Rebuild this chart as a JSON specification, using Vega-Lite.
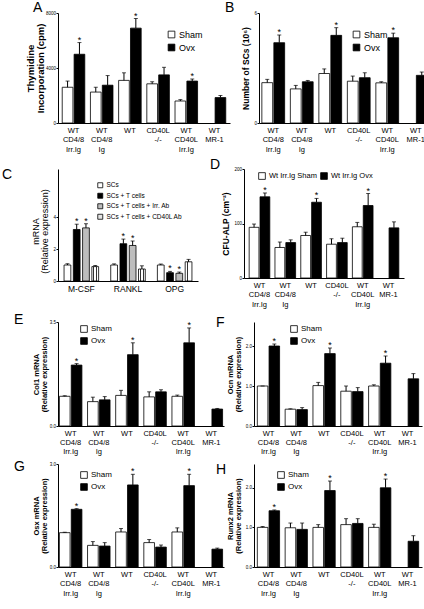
{
  "$schema": "https://vega.github.io/schema/vega-lite/v6.json",
  "padding": {"left": 2, "top": 1, "right": 2, "bottom": 1},
  "spacing": 5,
  "config": {
    "font": "Liberation Sans",
    "view": {"stroke": null},
    "axis": {"domainColor": "black", "tickColor": "black", "labelColor": "black", "titleColor": "black", "grid": false, "domainWidth": 1, "tickWidth": 1},
    "axisY": {"labelFontSize": 4.5, "tickSize": 2, "labelPadding": 0.5, "titleFontWeight": "bold", "titleFontSize": 8.5, "titlePadding": 1, "minExtent": 0},
    "axisX": {"labelFontSize": 7.5, "labelAngle": 0, "ticks": false, "labelPadding": 3, "labelLineHeight": 9.5, "labelOverlap": false, "labelExpr": "split(datum.label, ' ')"},
    "legend": {"title": null, "symbolType": "square", "symbolStrokeColor": "black", "symbolStrokeWidth": 1, "labelFontSize": 8, "symbolSize": 45, "rowPadding": 2, "labelOffset": 3},
    "title": {"fontSize": 14, "fontWeight": "normal", "anchor": "start", "frame": "group", "offset": 0},
    "bar": {"stroke": "black", "strokeWidth": 0.8}
  },
  "resolve": {"scale": {"fill": "independent", "xOffset": "independent", "x": "independent", "y": "independent"}, "legend": {"fill": "independent"}},
  "datasets": {
    "A": [
      {"group": "WT CD4/8 Irr.Ig", "cond": "Sham", "value": 2600, "hi": 3050, "sig": ""},
      {"group": "WT CD4/8 Irr.Ig", "cond": "Ovx", "value": 5000, "hi": 5850, "sig": "*"},
      {"group": "WT CD4/8 Ig", "cond": "Sham", "value": 2250, "hi": 2600, "sig": ""},
      {"group": "WT CD4/8 Ig", "cond": "Ovx", "value": 2750, "hi": 3450, "sig": ""},
      {"group": "WT", "cond": "Sham", "value": 3100, "hi": 3650, "sig": ""},
      {"group": "WT", "cond": "Ovx", "value": 6900, "hi": 7600, "sig": "*"},
      {"group": "CD40L -/-", "cond": "Sham", "value": 2850, "hi": 3000, "sig": ""},
      {"group": "CD40L -/-", "cond": "Ovx", "value": 3500, "hi": 4050, "sig": ""},
      {"group": "WT CD40L Irr.Ig", "cond": "Sham", "value": 1600, "hi": 1700, "sig": ""},
      {"group": "WT CD40L Irr.Ig", "cond": "Ovx", "value": 3050, "hi": 3200, "sig": "*"},
      {"group": "WT MR-1", "cond": "Ovx", "value": 1850, "hi": 2000, "sig": ""}
    ],
    "B": [
      {"group": "WT CD4/8 Irr.Ig", "cond": "Sham", "value": 2.2, "hi": 2.38, "sig": ""},
      {"group": "WT CD4/8 Irr.Ig", "cond": "Ovx", "value": 4.38, "hi": 4.8, "sig": "*"},
      {"group": "WT CD4/8 Ig", "cond": "Sham", "value": 1.86, "hi": 2.05, "sig": ""},
      {"group": "WT CD4/8 Ig", "cond": "Ovx", "value": 2.25, "hi": 2.32, "sig": ""},
      {"group": "WT", "cond": "Sham", "value": 2.7, "hi": 2.95, "sig": ""},
      {"group": "WT", "cond": "Ovx", "value": 4.78, "hi": 5.2, "sig": "*"},
      {"group": "CD40L -/-", "cond": "Sham", "value": 2.28, "hi": 2.56, "sig": ""},
      {"group": "CD40L -/-", "cond": "Ovx", "value": 2.47, "hi": 2.74, "sig": ""},
      {"group": "WT CD40L Irr.Ig", "cond": "Sham", "value": 2.19, "hi": 2.25, "sig": ""},
      {"group": "WT CD40L Irr.Ig", "cond": "Ovx", "value": 4.65, "hi": 4.9, "sig": "*"},
      {"group": "WT MR-1", "cond": "Ovx", "value": 2.6, "hi": 2.78, "sig": ""}
    ],
    "C": [
      {"gene": "M-CSF", "treat": "SCs", "value": 1.0, "hi": 1.08, "sig": ""},
      {"gene": "M-CSF", "treat": "SCs + T cells", "value": 3.22, "hi": 3.55, "sig": "*"},
      {"gene": "M-CSF", "treat": "SCs + T cells + Irr. Ab", "value": 3.32, "hi": 3.58, "sig": "*"},
      {"gene": "M-CSF", "treat": "SCs + T cells + CD40L Ab", "value": 0.9, "hi": 0.97, "sig": ""},
      {"gene": "RANKL", "treat": "SCs", "value": 1.0, "hi": 1.07, "sig": ""},
      {"gene": "RANKL", "treat": "SCs + T cells", "value": 2.33, "hi": 2.62, "sig": "*"},
      {"gene": "RANKL", "treat": "SCs + T cells + Irr. Ab", "value": 2.22, "hi": 2.5, "sig": "*"},
      {"gene": "RANKL", "treat": "SCs + T cells + CD40L Ab", "value": 0.75, "hi": 0.95, "sig": ""},
      {"gene": "OPG", "treat": "SCs", "value": 1.0, "hi": 1.06, "sig": ""},
      {"gene": "OPG", "treat": "SCs + T cells", "value": 0.52, "hi": 0.6, "sig": "*"},
      {"gene": "OPG", "treat": "SCs + T cells + Irr. Ab", "value": 0.48, "hi": 0.56, "sig": "*"},
      {"gene": "OPG", "treat": "SCs + T cells + CD40L Ab", "value": 1.2, "hi": 1.35, "sig": ""}
    ],
    "D": [
      {"group": "WT CD4/8 Irr.Ig", "cond": "Sham", "value": 93, "hi": 99, "sig": ""},
      {"group": "WT CD4/8 Irr.Ig", "cond": "Ovx", "value": 149, "hi": 156, "sig": "*"},
      {"group": "WT CD4/8 Ig", "cond": "Sham", "value": 56, "hi": 66, "sig": ""},
      {"group": "WT CD4/8 Ig", "cond": "Ovx", "value": 65, "hi": 70, "sig": ""},
      {"group": "WT", "cond": "Sham", "value": 78, "hi": 84, "sig": ""},
      {"group": "WT", "cond": "Ovx", "value": 139, "hi": 146, "sig": "*"},
      {"group": "CD40L -/-", "cond": "Sham", "value": 62, "hi": 72, "sig": ""},
      {"group": "CD40L -/-", "cond": "Ovx", "value": 65, "hi": 73, "sig": ""},
      {"group": "WT CD40L Irr.Ig", "cond": "Sham", "value": 94, "hi": 102, "sig": ""},
      {"group": "WT CD40L Irr.Ig", "cond": "Ovx", "value": 133, "hi": 155, "sig": "*"},
      {"group": "WT MR-1", "cond": "Ovx", "value": 92, "hi": 103, "sig": ""}
    ],
    "E": [
      {"group": "WT CD4/8 Irr.Ig", "cond": "Sham", "value": 1.0, "hi": 1.02, "sig": ""},
      {"group": "WT CD4/8 Irr.Ig", "cond": "Ovx", "value": 2.05, "hi": 2.1, "sig": "*"},
      {"group": "WT CD4/8 Ig", "cond": "Sham", "value": 0.82, "hi": 0.97, "sig": ""},
      {"group": "WT CD4/8 Ig", "cond": "Ovx", "value": 0.88, "hi": 0.99, "sig": ""},
      {"group": "WT", "cond": "Sham", "value": 1.03, "hi": 1.2, "sig": ""},
      {"group": "WT", "cond": "Ovx", "value": 2.4, "hi": 2.8, "sig": "*"},
      {"group": "CD40L -/-", "cond": "Sham", "value": 0.98, "hi": 1.15, "sig": ""},
      {"group": "CD40L -/-", "cond": "Ovx", "value": 1.15, "hi": 1.22, "sig": ""},
      {"group": "WT CD40L Irr.Ig", "cond": "Sham", "value": 1.0, "hi": 1.04, "sig": ""},
      {"group": "WT CD40L Irr.Ig", "cond": "Ovx", "value": 2.8, "hi": 3.3, "sig": "*"},
      {"group": "WT MR-1", "cond": "Ovx", "value": 0.57, "hi": 0.59, "sig": ""}
    ],
    "F": [
      {"group": "WT CD4/8 Irr.Ig", "cond": "Sham", "value": 1.0, "hi": 1.0, "sig": ""},
      {"group": "WT CD4/8 Irr.Ig", "cond": "Ovx", "value": 2.0, "hi": 2.05, "sig": "*"},
      {"group": "WT CD4/8 Ig", "cond": "Sham", "value": 0.42, "hi": 0.43, "sig": ""},
      {"group": "WT CD4/8 Ig", "cond": "Ovx", "value": 0.41, "hi": 0.46, "sig": ""},
      {"group": "WT", "cond": "Sham", "value": 1.01, "hi": 1.09, "sig": ""},
      {"group": "WT", "cond": "Ovx", "value": 1.81, "hi": 1.95, "sig": "*"},
      {"group": "CD40L -/-", "cond": "Sham", "value": 0.87, "hi": 1.0, "sig": ""},
      {"group": "CD40L -/-", "cond": "Ovx", "value": 0.86, "hi": 0.96, "sig": ""},
      {"group": "WT CD40L Irr.Ig", "cond": "Sham", "value": 1.0, "hi": 1.03, "sig": ""},
      {"group": "WT CD40L Irr.Ig", "cond": "Ovx", "value": 1.57, "hi": 1.75, "sig": "*"},
      {"group": "WT MR-1", "cond": "Ovx", "value": 1.18, "hi": 1.31, "sig": ""}
    ],
    "G": [
      {"group": "WT CD4/8 Irr.Ig", "cond": "Sham", "value": 1.0, "hi": 1.01, "sig": ""},
      {"group": "WT CD4/8 Irr.Ig", "cond": "Ovx", "value": 1.68, "hi": 1.7, "sig": "*"},
      {"group": "WT CD4/8 Ig", "cond": "Sham", "value": 0.63, "hi": 0.74, "sig": ""},
      {"group": "WT CD4/8 Ig", "cond": "Ovx", "value": 0.61, "hi": 0.71, "sig": ""},
      {"group": "WT", "cond": "Sham", "value": 1.02, "hi": 1.12, "sig": ""},
      {"group": "WT", "cond": "Ovx", "value": 2.39, "hi": 2.7, "sig": "*"},
      {"group": "CD40L -/-", "cond": "Sham", "value": 0.71, "hi": 0.8, "sig": ""},
      {"group": "CD40L -/-", "cond": "Ovx", "value": 0.58, "hi": 0.64, "sig": ""},
      {"group": "WT CD40L Irr.Ig", "cond": "Sham", "value": 1.02, "hi": 1.14, "sig": ""},
      {"group": "WT CD40L Irr.Ig", "cond": "Ovx", "value": 2.37, "hi": 2.7, "sig": "*"},
      {"group": "WT MR-1", "cond": "Ovx", "value": 0.52, "hi": 0.55, "sig": ""}
    ],
    "H": [
      {"group": "WT CD4/8 Irr.Ig", "cond": "Sham", "value": 1.0, "hi": 1.02, "sig": ""},
      {"group": "WT CD4/8 Irr.Ig", "cond": "Ovx", "value": 1.42, "hi": 1.44, "sig": "*"},
      {"group": "WT CD4/8 Ig", "cond": "Sham", "value": 0.99, "hi": 1.11, "sig": ""},
      {"group": "WT CD4/8 Ig", "cond": "Ovx", "value": 0.95, "hi": 1.11, "sig": ""},
      {"group": "WT", "cond": "Sham", "value": 1.0, "hi": 1.07, "sig": ""},
      {"group": "WT", "cond": "Ovx", "value": 1.93, "hi": 2.17, "sig": "*"},
      {"group": "CD40L -/-", "cond": "Sham", "value": 1.07, "hi": 1.22, "sig": ""},
      {"group": "CD40L -/-", "cond": "Ovx", "value": 1.1, "hi": 1.22, "sig": ""},
      {"group": "WT CD40L Irr.Ig", "cond": "Sham", "value": 1.0, "hi": 1.08, "sig": ""},
      {"group": "WT CD40L Irr.Ig", "cond": "Ovx", "value": 2.0, "hi": 2.22, "sig": "*"},
      {"group": "WT MR-1", "cond": "Ovx", "value": 0.65, "hi": 0.79, "sig": ""}
    ]
  },
  "vconcat": [
    {
      "spacing": -5,
      "resolve": {"scale": {"fill": "independent", "xOffset": "independent", "x": "independent", "y": "independent"}, "legend": {"fill": "independent"}},
      "hconcat": [
        {
          "width": 172, "height": 110,
          "title": {"text": "A", "dx": -25, "dy": 9},
          "data": {"name": "A"},
          "encoding": {
            "x": {"field": "group", "type": "nominal", "title": null, "sort": ["WT CD4/8 Irr.Ig", "WT CD4/8 Ig", "WT", "CD40L -/-", "WT CD40L Irr.Ig", "WT MR-1"], "scale": {"paddingInner": 0.2, "paddingOuter": 0.15}},
            "xOffset": {"field": "cond", "type": "nominal", "sort": ["Sham", "Ovx"], "scale": {"domain": ["Sham", "Ovx"], "paddingInner": 0.1}}
          },
          "layer": [
            {"mark": "bar", "encoding": {
              "y": {"field": "value", "type": "quantitative", "scale": {"domain": [0, 8000]}, "axis": {"values": [0, 2000, 4000, 6000, 8000], "format": "d", "title": ["Thymidine", "Incorporation (cpm)"], "titleFontSize": 9.5, "titleLineHeight": 10, "titlePadding": 0}},
              "fill": {"field": "cond", "type": "nominal", "scale": {"domain": ["Sham", "Ovx"], "range": ["white", "black"]}, "legend": {"orient": "none", "legendX": 109, "legendY": 17, "labelFontSize": 9}}}},
            {"mark": {"type": "rule", "strokeWidth": 1}, "encoding": {"y": {"field": "value", "type": "quantitative"}, "y2": {"field": "hi"}}},
            {"mark": {"type": "tick", "thickness": 1, "size": 4, "color": "black"}, "encoding": {"y": {"field": "hi", "type": "quantitative"}}},
            {"mark": {"type": "text", "baseline": "bottom", "dy": 2, "fontSize": 9}, "encoding": {"y": {"field": "hi", "type": "quantitative"}, "text": {"field": "sig"}}}
          ]
        },
        {
          "width": 171, "height": 110,
          "title": {"text": "B", "dx": -34, "dy": 9},
          "data": {"name": "B"},
          "encoding": {
            "x": {"field": "group", "type": "nominal", "title": null, "sort": ["WT CD4/8 Irr.Ig", "WT CD4/8 Ig", "WT", "CD40L -/-", "WT CD40L Irr.Ig", "WT MR-1"], "scale": {"paddingInner": 0.2, "paddingOuter": 0.1}},
            "xOffset": {"field": "cond", "type": "nominal", "sort": ["Sham", "Ovx"], "scale": {"domain": ["Sham", "Ovx"], "paddingInner": 0.1}}
          },
          "layer": [
            {"mark": "bar", "encoding": {
              "y": {"field": "value", "type": "quantitative", "scale": {"domain": [0, 6]}, "axis": {"values": [0, 2, 4, 6], "format": "d", "title": "Number of SCs (10⁶)", "titleFontSize": 8.5, "titlePadding": 3}},
              "fill": {"field": "cond", "type": "nominal", "scale": {"domain": ["Sham", "Ovx"], "range": ["white", "black"]}, "legend": {"orient": "none", "legendX": 93, "legendY": 17, "labelFontSize": 9}}}},
            {"mark": {"type": "rule", "strokeWidth": 1}, "encoding": {"y": {"field": "value", "type": "quantitative"}, "y2": {"field": "hi"}}},
            {"mark": {"type": "tick", "thickness": 1, "size": 4, "color": "black"}, "encoding": {"y": {"field": "hi", "type": "quantitative"}}},
            {"mark": {"type": "text", "baseline": "bottom", "dy": 2, "fontSize": 9}, "encoding": {"y": {"field": "hi", "type": "quantitative"}, "text": {"field": "sig"}}}
          ]
        }
      ]
    },
    {
      "spacing": 12,
      "resolve": {"scale": {"fill": "independent", "xOffset": "independent", "x": "independent", "y": "independent"}, "legend": {"fill": "independent"}},
      "hconcat": [
        {
          "width": 140, "height": 112,
          "title": {"text": "C", "dx": -56, "dy": 16.5},
          "data": {"name": "C"},
          "encoding": {
            "x": {"field": "gene", "type": "nominal", "title": null, "sort": ["M-CSF", "RANKL", "OPG"], "scale": {"paddingInner": 0.2, "paddingOuter": 0.1}, "axis": {"labelFontSize": 8.5, "labelPadding": 3}},
            "xOffset": {"field": "treat", "type": "nominal", "sort": ["SCs", "SCs + T cells", "SCs + T cells + Irr. Ab", "SCs + T cells + CD40L Ab"], "scale": {"paddingInner": 0.27, "paddingOuter": 0.15}}
          },
          "layer": [
            {"mark": "bar", "encoding": {
              "y": {"field": "value", "type": "quantitative", "scale": {"domain": [0, 7]}, "axis": {"values": [0, 1, 2, 3, 4, 5], "format": "d", "title": ["mRNA", "(Relative expression)"], "titleFontWeight": "normal", "titleFontSize": 9, "titleLineHeight": 9.5, "titlePadding": 3, "titleY": 62}},
              "fill": {
                "condition": {"test": "datum.treat === 'SCs + T cells + CD40L Ab'", "value": {"gradient": "linear", "x1": 0, "y1": 0, "x2": 1, "y2": 0, "stops": [{"offset": 0, "color": "white"}, {"offset": 0.22, "color": "white"}, {"offset": 0.22, "color": "#333333"}, {"offset": 0.36, "color": "#333333"}, {"offset": 0.36, "color": "white"}, {"offset": 0.64, "color": "white"}, {"offset": 0.64, "color": "#333333"}, {"offset": 0.78, "color": "#333333"}, {"offset": 0.78, "color": "white"}, {"offset": 1, "color": "white"}]}},
                "field": "treat", "type": "nominal",
                "scale": {"domain": ["SCs", "SCs + T cells", "SCs + T cells + Irr. Ab", "SCs + T cells + CD40L Ab"], "range": ["white", "black", "#bdbdbd", "#e4e4e4"]},
                "legend": {"orient": "none", "legendX": 39, "legendY": 13, "symbolSize": 25, "labelFontSize": 6.5, "rowPadding": 1.5, "labelOffset": 3}}}},
            {"mark": {"type": "rule", "strokeWidth": 1}, "encoding": {"y": {"field": "value", "type": "quantitative"}, "y2": {"field": "hi"}}},
            {"mark": {"type": "tick", "thickness": 1, "size": 4, "color": "black"}, "encoding": {"y": {"field": "hi", "type": "quantitative"}}},
            {"mark": {"type": "text", "baseline": "bottom", "dy": 2, "fontSize": 9}, "encoding": {"y": {"field": "hi", "type": "quantitative"}, "text": {"field": "sig"}}}
          ]
        },
        {
          "width": 160, "height": 109,
          "title": {"text": "D", "dx": -34, "dy": 10},
          "data": {"name": "D"},
          "encoding": {
            "x": {"field": "group", "type": "nominal", "title": null, "sort": ["WT CD4/8 Irr.Ig", "WT CD4/8 Ig", "WT", "CD40L -/-", "WT CD40L Irr.Ig", "WT MR-1"], "scale": {"paddingInner": 0.2, "paddingOuter": 0.2}},
            "xOffset": {"field": "cond", "type": "nominal", "sort": ["Sham", "Ovx"], "scale": {"domain": ["Sham", "Ovx"], "paddingInner": 0.1}}
          },
          "layer": [
            {"mark": "bar", "encoding": {
              "y": {"field": "value", "type": "quantitative", "scale": {"domain": [0, 200]}, "axis": {"values": [0, 50, 100, 150, 200], "format": "d", "title": "CFU-ALP (cm⁻²)", "titleFontSize": 8.5, "titlePadding": 3}},
              "fill": {"field": "cond", "type": "nominal", "scale": {"domain": ["Sham", "Ovx"], "range": ["white", "black"]}, "legend": {"orient": "none", "legendX": 14, "legendY": 3, "direction": "horizontal", "columnPadding": 2, "labelFontSize": 7.5, "labelExpr": "'Wt Irr.Ig ' + datum.label"}}}},
            {"mark": {"type": "rule", "strokeWidth": 1}, "encoding": {"y": {"field": "value", "type": "quantitative"}, "y2": {"field": "hi"}}},
            {"mark": {"type": "tick", "thickness": 1, "size": 4, "color": "black"}, "encoding": {"y": {"field": "hi", "type": "quantitative"}}},
            {"mark": {"type": "text", "baseline": "bottom", "dy": 2, "fontSize": 9}, "encoding": {"y": {"field": "hi", "type": "quantitative"}, "text": {"field": "sig"}}}
          ]
        }
      ]
    },
    {
      "spacing": -8,
      "resolve": {"scale": {"fill": "independent", "xOffset": "independent", "x": "independent", "y": "independent"}, "legend": {"fill": "independent"}},
      "hconcat": [
        {
          "width": 166, "height": 104,
          "title": {"text": "E", "dx": -44, "dy": 17, "offset": 9},
          "data": {"name": "E"},
          "encoding": {
            "x": {"field": "group", "type": "nominal", "title": null, "sort": ["WT CD4/8 Irr.Ig", "WT CD4/8 Ig", "WT", "CD40L -/-", "WT CD40L Irr.Ig", "WT MR-1"], "scale": {"paddingInner": 0.2, "paddingOuter": 0.05}, "axis": {"labelLineHeight": 9}},
            "xOffset": {"field": "cond", "type": "nominal", "sort": ["Sham", "Ovx"], "scale": {"domain": ["Sham", "Ovx"], "paddingInner": 0.1}}
          },
          "layer": [
            {"mark": "bar", "encoding": {
              "y": {"field": "value", "type": "quantitative", "scale": {"domain": [0, 3.5]}, "axis": {"values": [0, 0.5, 1, 1.5, 2, 2.5, 3, 3.5], "format": ".1f", "title": ["Col1 mRNA", "(Relative expression)"], "titleFontSize": 7.5, "titleLineHeight": 8}},
              "fill": {"field": "cond", "type": "nominal", "scale": {"domain": ["Sham", "Ovx"], "range": ["white", "black"]}, "legend": {"orient": "none", "legendX": 22, "legendY": 3}}}},
            {"mark": {"type": "rule", "strokeWidth": 1}, "encoding": {"y": {"field": "value", "type": "quantitative"}, "y2": {"field": "hi"}}},
            {"mark": {"type": "tick", "thickness": 1, "size": 4, "color": "black"}, "encoding": {"y": {"field": "hi", "type": "quantitative"}}},
            {"mark": {"type": "text", "baseline": "bottom", "dy": 2, "fontSize": 9}, "encoding": {"y": {"field": "hi", "type": "quantitative"}, "text": {"field": "sig"}}}
          ]
        },
        {
          "width": 168, "height": 104,
          "title": {"text": "F", "dx": -38, "dy": 17, "offset": 9},
          "data": {"name": "F"},
          "encoding": {
            "x": {"field": "group", "type": "nominal", "title": null, "sort": ["WT CD4/8 Irr.Ig", "WT CD4/8 Ig", "WT", "CD40L -/-", "WT CD40L Irr.Ig", "WT MR-1"], "scale": {"paddingInner": 0.2, "paddingOuter": 0.12}, "axis": {"labelLineHeight": 9}},
            "xOffset": {"field": "cond", "type": "nominal", "sort": ["Sham", "Ovx"], "scale": {"domain": ["Sham", "Ovx"], "paddingInner": 0.1}}
          },
          "layer": [
            {"mark": "bar", "encoding": {
              "y": {"field": "value", "type": "quantitative", "scale": {"domain": [0, 2.5]}, "axis": {"values": [0, 0.5, 1, 1.5, 2, 2.5], "format": ".1f", "title": ["Ocn mRNA", "(Relative expression)"], "titleFontSize": 7.5, "titleLineHeight": 8, "titlePadding": 3}},
              "fill": {"field": "cond", "type": "nominal", "scale": {"domain": ["Sham", "Ovx"], "range": ["white", "black"]}, "legend": {"orient": "none", "legendX": 36, "legendY": 3}}}},
            {"mark": {"type": "rule", "strokeWidth": 1}, "encoding": {"y": {"field": "value", "type": "quantitative"}, "y2": {"field": "hi"}}},
            {"mark": {"type": "tick", "thickness": 1, "size": 4, "color": "black"}, "encoding": {"y": {"field": "hi", "type": "quantitative"}}},
            {"mark": {"type": "text", "baseline": "bottom", "dy": 2, "fontSize": 9}, "encoding": {"y": {"field": "hi", "type": "quantitative"}, "text": {"field": "sig"}}}
          ]
        }
      ]
    },
    {
      "spacing": -8,
      "resolve": {"scale": {"fill": "independent", "xOffset": "independent", "x": "independent", "y": "independent"}, "legend": {"fill": "independent"}},
      "hconcat": [
        {
          "width": 166, "height": 103,
          "title": {"text": "G", "dx": -44, "dy": -3, "offset": -16},
          "data": {"name": "G"},
          "encoding": {
            "x": {"field": "group", "type": "nominal", "title": null, "sort": ["WT CD4/8 Irr.Ig", "WT CD4/8 Ig", "WT", "CD40L -/-", "WT CD40L Irr.Ig", "WT MR-1"], "scale": {"paddingInner": 0.2, "paddingOuter": 0.05}},
            "xOffset": {"field": "cond", "type": "nominal", "sort": ["Sham", "Ovx"], "scale": {"domain": ["Sham", "Ovx"], "paddingInner": 0.1}}
          },
          "layer": [
            {"mark": "bar", "encoding": {
              "y": {"field": "value", "type": "quantitative", "scale": {"domain": [0, 3]}, "axis": {"values": [0, 0.5, 1, 1.5, 2, 2.5, 3], "format": ".1f", "title": ["Osx mRNA", "(Relative expression)"], "titleFontSize": 7.5, "titleLineHeight": 8}},
              "fill": {"field": "cond", "type": "nominal", "scale": {"domain": ["Sham", "Ovx"], "range": ["white", "black"]}, "legend": {"orient": "none", "legendX": 22, "legendY": 7}}}},
            {"mark": {"type": "rule", "strokeWidth": 1}, "encoding": {"y": {"field": "value", "type": "quantitative"}, "y2": {"field": "hi"}}},
            {"mark": {"type": "tick", "thickness": 1, "size": 4, "color": "black"}, "encoding": {"y": {"field": "hi", "type": "quantitative"}}},
            {"mark": {"type": "text", "baseline": "bottom", "dy": 2, "fontSize": 9}, "encoding": {"y": {"field": "hi", "type": "quantitative"}, "text": {"field": "sig"}}}
          ]
        },
        {
          "width": 168, "height": 103,
          "title": {"text": "H", "dx": -38, "dy": -3, "offset": -16},
          "data": {"name": "H"},
          "encoding": {
            "x": {"field": "group", "type": "nominal", "title": null, "sort": ["WT CD4/8 Irr.Ig", "WT CD4/8 Ig", "WT", "CD40L -/-", "WT CD40L Irr.Ig", "WT MR-1"], "scale": {"paddingInner": 0.2, "paddingOuter": 0.12}},
            "xOffset": {"field": "cond", "type": "nominal", "sort": ["Sham", "Ovx"], "scale": {"domain": ["Sham", "Ovx"], "paddingInner": 0.1}}
          },
          "layer": [
            {"mark": "bar", "encoding": {
              "y": {"field": "value", "type": "quantitative", "scale": {"domain": [0, 2.5]}, "axis": {"values": [0, 0.5, 1, 1.5, 2, 2.5], "format": ".1f", "title": ["Runx2 mRNA", "(Relative expression)"], "titleFontSize": 7.5, "titleLineHeight": 8, "titlePadding": 3}},
              "fill": {"field": "cond", "type": "nominal", "scale": {"domain": ["Sham", "Ovx"], "range": ["white", "black"]}, "legend": {"orient": "none", "legendX": 23, "legendY": 7}}}},
            {"mark": {"type": "rule", "strokeWidth": 1}, "encoding": {"y": {"field": "value", "type": "quantitative"}, "y2": {"field": "hi"}}},
            {"mark": {"type": "tick", "thickness": 1, "size": 4, "color": "black"}, "encoding": {"y": {"field": "hi", "type": "quantitative"}}},
            {"mark": {"type": "text", "baseline": "bottom", "dy": 2, "fontSize": 9}, "encoding": {"y": {"field": "hi", "type": "quantitative"}, "text": {"field": "sig"}}}
          ]
        }
      ]
    }
  ]
}
